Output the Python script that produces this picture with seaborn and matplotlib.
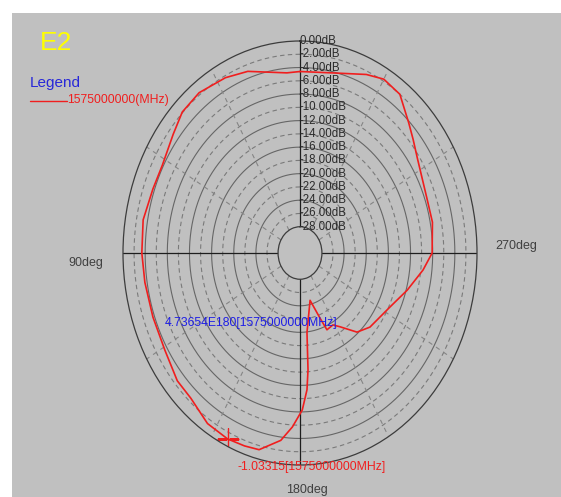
import numpy as np
import matplotlib
matplotlib.use("Agg")
import matplotlib.pyplot as plt
import matplotlib.patches as mpatches
from matplotlib.lines import Line2D
import seaborn as sns

# pattern: angle (deg, 0 at top, counter-clockwise) and gain (dB)
angle_deg = [0, 5, 19, 27, 37, 45, 52, 62, 70, 80,
             90, 99, 110, 121, 131, 138, 147, 155, 161, 166,
             173, 177, 181, 183.5, 184.7, 186, 194.3, 200.2, 202.8, 208.7,
             213, 220.8, 228.5, 243.3, 253.9, 263.4, 270, 281, 290, 304,
             310, 315, 323, 330, 336, 348, 360]
gain_db = [-4.6, -4.7, -3.0, -2.3, -1.7, -1.9, -2.9, -3.8, -3.7, -3.2,
           -3.4, -3.6, -3.7, -3.5, -2.6, -2.5, -1.3, -1.03, -1.2, -1.4,
           -3.5, -5.7, -8.3, -11.3, -14.3, -19.9, -24.6, -21.5, -19.4, -19.6,
           -18.7, -16.2, -15.1, -13.8, -11.8, -9.6, -8.1, -7.6, -7.6, -6.4,
           -5.3, -4.2, -2.0, -1.7, -2.5, -4.2, -4.6]

ring_db = list(range(0, -30, -2))          # 0 .. -28 dB
spoke_deg = list(range(0, 360, 30))
max_angle = 155
max_gain = -1.03315
ref_gain_text = "4.73654E180[1575000000MHz]"
freq_label = "1575000000(MHz)"

sns.set_theme(style="white")
plt.rcParams['font.family'] = ['Liberation Sans', 'DejaVu Sans']

W, H = 561, 497
fig = plt.figure(figsize=(W / 100, H / 100), dpi=100)
fig.patch.set_facecolor('white')
fig.patches.append(mpatches.Rectangle((12 / W, 0), 1 - 12 / W, 1 - 13 / H,
                                      transform=fig.transFigure,
                                      facecolor='#c0c0c0', edgecolor='none', zorder=-5))

# polar axes, stretched into an ellipse like the original screenshot
cx, cy, rx, ry = 300, 253, 177, 212
ax = fig.add_axes([(cx - rx) / W, (H - cy - ry) / H, 2 * rx / W, 2 * ry / H],
                  projection='polar')
ax.set_aspect('auto')
ax.set_facecolor('none')
ax.set_theta_zero_location('N')
ax.set_theta_direction(1)
ax.grid(False)

full = np.linspace(0, 2 * np.pi, 721)
for i, r in enumerate(ring_db[1:-1], start=1):
    if i % 2:
        ax.plot(full, np.full_like(full, r), color='#7a7a7a', lw=0.8, ls=(0, (4, 3)))
    else:
        ax.plot(full, np.full_like(full, r), color='#666666', lw=0.8)

for a in spoke_deg:
    t = np.deg2rad(a)
    if a % 90 == 0:
        ax.plot([t, t], [-28, 0], color='#1e1e1e', lw=0.9)
    else:
        ax.plot([t, t], [-28, 0], color='#858585', lw=0.8, ls=(0, (4, 4)))

theta = np.deg2rad(angle_deg)
sns.lineplot(x=theta, y=gain_db, ax=ax, color='#f01e1e', linewidth=1.2,
             sort=False, estimator=None)
ax.plot(np.deg2rad(max_angle), max_gain, marker='+', ms=16, mew=1.0, color='#f01e1e')

ax.set_rlim(-28, 0)
ax.set_rorigin(-31.96)
ax.set_xticks([])
ax.set_yticks([])
ax.set_xlabel('')
ax.set_ylabel('')
for name in ('polar', 'inner'):
    ax.spines[name].set_color('#3c3c3c')
    ax.spines[name].set_linewidth(0.9)

for r in ring_db:
    ax.text(0, r, f"{r:.2f}dB", ha='left', va='center', fontsize=8.3,
            color='#2a2a2a')

# labels around the chart
fig.text(40 / W, 1 - 43 / H, "E2", color='#ffff00', fontsize=19, ha='left', va='center')
fig.text(30 / W, 1 - 83 / H, "Legend", color='#2828d8', fontsize=11, ha='left', va='center')
fig.lines.append(Line2D([30 / W, 67 / W], [1 - 101 / H, 1 - 101 / H],
                        transform=fig.transFigure, color='#f01e1e', lw=1.0))
fig.text(67 / W, 1 - 100 / H, freq_label, color='#f01e1e', fontsize=8.8,
         ha='left', va='center')
fig.text(103 / W, 1 - 263 / H, "90deg", color='#404040', fontsize=9,
         ha='right', va='center')
fig.text(495 / W, 1 - 246 / H, "270deg", color='#404040', fontsize=9,
         ha='left', va='center')
fig.text(307 / W, 1 - 496 / H, "180deg", color='#404040', fontsize=9,
         ha='center', va='bottom')
fig.text(165 / W, 1 - 323 / H, ref_gain_text, color='#1e1ee6', fontsize=8.8,
         ha='left', va='center')
fig.text(238 / W, 1 - 467 / H, f"{max_gain:.5f}[1575000000MHz]", color='#f01e1e',
         fontsize=8.8, ha='left', va='center')

fig.savefig('out.png', dpi=100)
